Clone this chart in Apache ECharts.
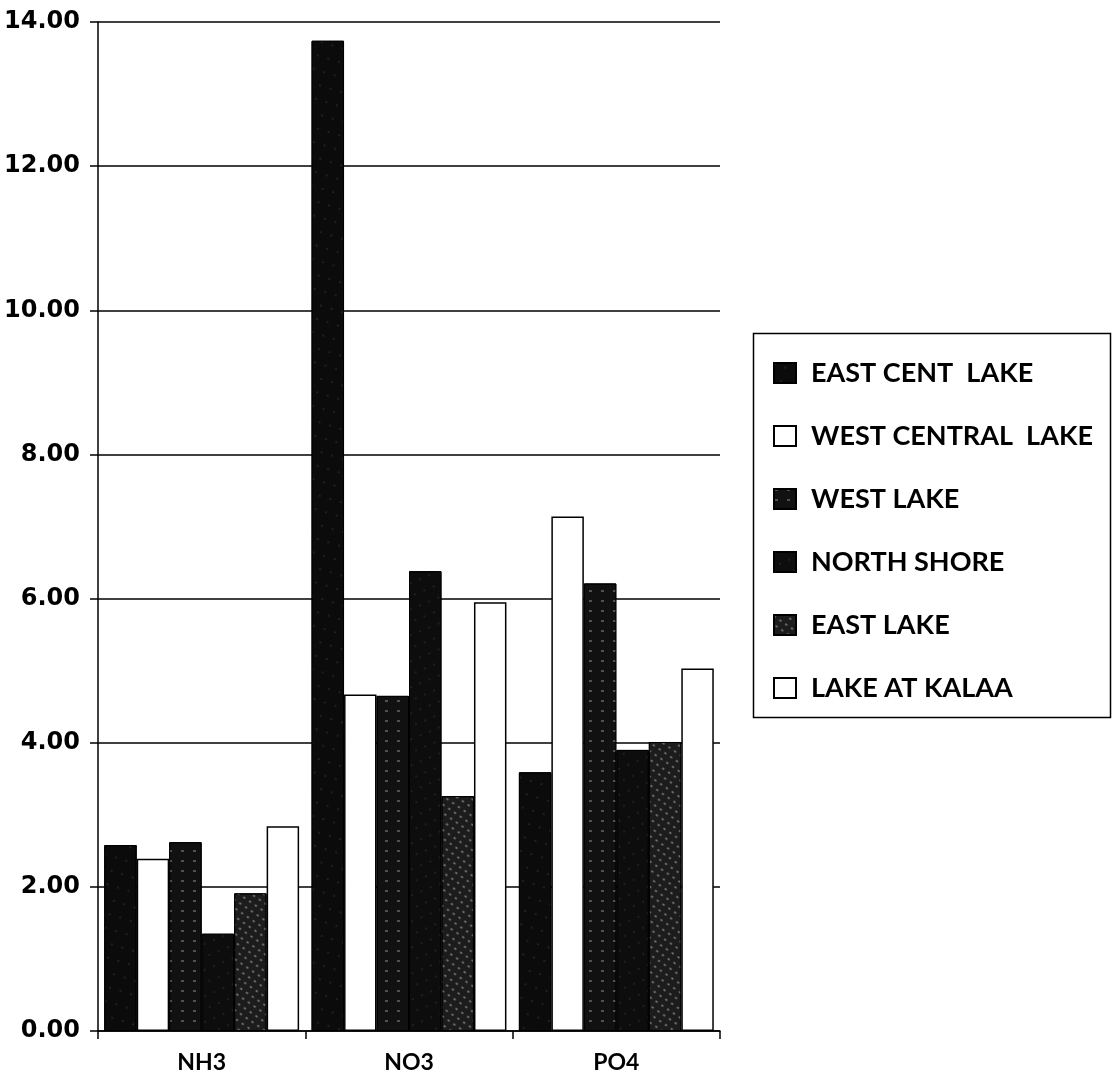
<!DOCTYPE html>
<html>
<head>
<meta charset="utf-8">
<script src="https://cdn.jsdelivr.net/npm/echarts@6/dist/echarts.min.js"></script>
<style>
  html, body { margin: 0; padding: 0; background: #fff; }
  #chart { width: 1114px; height: 1091px; }
</style>
</head>
<body>
<div id="chart"></div>
<script>
// Nutrient concentrations by sampling site
const categories = ['NH3', 'NO3', 'PO4'];
const siteNames = ['EAST CENT  LAKE', 'WEST CENTRAL  LAKE', 'WEST LAKE', 'NORTH SHORE', 'EAST LAKE', 'LAKE AT KALAA'];
const eastCentLake    = [2.58, 13.74, 3.59];
const westCentralLake = [2.39, 4.67, 7.14];
const westLake        = [2.62, 4.65, 6.21];
const northShore      = [1.35, 6.38, 3.90];
const eastLake        = [1.91, 3.26, 4.01];
const lakeAtKalaa     = [2.84, 5.95, 5.03];
const yTicks = [0, 2, 4, 6, 8, 10, 12, 14];

const seriesValues = [eastCentLake, westCentralLake, westLake, northShore, eastLake, lakeAtKalaa];

// Fill styles: dark speckled bars and open white bars
const styles = [
  { color: '#0b0b0b', borderColor: '#000', borderWidth: 1,
    decal: { symbol: 'circle', symbolSize: 0.5, color: 'rgba(255,255,255,0.45)', dashArrayX: [2, 9], dashArrayY: [2, 12], rotation: 0.3 } },
  { color: '#ffffff', borderColor: '#000', borderWidth: 1.5 },
  { color: '#111111', borderColor: '#000', borderWidth: 1,
    decal: { symbol: 'rect', symbolSize: 0.6, color: 'rgba(255,255,255,0.45)', dashArrayX: [[5, 7]], dashArrayY: [2, 8], rotation: 0 } },
  { color: '#0d0d0d', borderColor: '#000', borderWidth: 1,
    decal: { symbol: 'circle', symbolSize: 0.5, color: 'rgba(255,255,255,0.4)', dashArrayX: [2, 8], dashArrayY: [2, 10], rotation: -0.4 } },
  { color: '#1c1c1c', borderColor: '#000', borderWidth: 1,
    decal: { symbol: 'rect', symbolSize: 0.7, color: 'rgba(255,255,255,0.55)', dashArrayX: [[3, 4]], dashArrayY: [2, 5], rotation: 0.6 } },
  { color: '#ffffff', borderColor: '#000', borderWidth: 1.5 }
];

const chart = echarts.init(document.getElementById('chart'), null, { renderer: 'canvas' });

const option = {
  backgroundColor: '#ffffff',
  animation: false,
  grid: { left: 98, right: 394, top: 22, bottom: 60, containLabel: false },
  legend: {
    orient: 'vertical',
    left: 773,
    top: 358,
    padding: 0,
    icon: 'rect',
    itemWidth: 22,
    itemHeight: 20,
    itemGap: 33,
    data: siteNames,
    textStyle: { fontFamily: 'Lato', fontWeight: 'bold', fontSize: 27, color: '#000', lineHeight: 30, padding: [0, 0, 0, 10] }
  },
  graphic: [{
    type: 'rect',
    shape: { x: 753.5, y: 333.5, width: 357, height: 384 },
    style: { fill: 'none', stroke: '#000', lineWidth: 1.5 },
    silent: true
  }],
  xAxis: {
    type: 'category',
    data: categories,
    boundaryGap: true,
    axisLine: { show: true, lineStyle: { color: '#000', width: 1.5 } },
    axisTick: { show: true, length: 8, lineStyle: { color: '#000', width: 1.5 } },
    axisLabel: { color: '#000', fontFamily: 'Lato', fontWeight: 'bold', fontSize: 23, margin: 20 }
  },
  yAxis: {
    type: 'value',
    min: yTicks[0],
    max: yTicks[yTicks.length - 1],
    interval: 2,
    axisLine: { show: true, lineStyle: { color: '#000', width: 1.5 } },
    axisTick: { show: true, length: 8, lineStyle: { color: '#000', width: 1.5 } },
    splitLine: { show: true, lineStyle: { color: '#000', width: 1.5 } },
    axisLabel: {
      color: '#000', fontFamily: 'DejaVu Sans', fontWeight: 'bold', fontSize: 24, margin: 18,
      formatter: v => v.toFixed(2)
    }
  },
  series: siteNames.map((name, i) => ({
    name: name,
    type: 'bar',
    data: seriesValues[i],
    barGap: '0%',
    barCategoryGap: '6%',
    itemStyle: styles[i]
  }))
};

chart.setOption(option);
</script>
</body>
</html>
